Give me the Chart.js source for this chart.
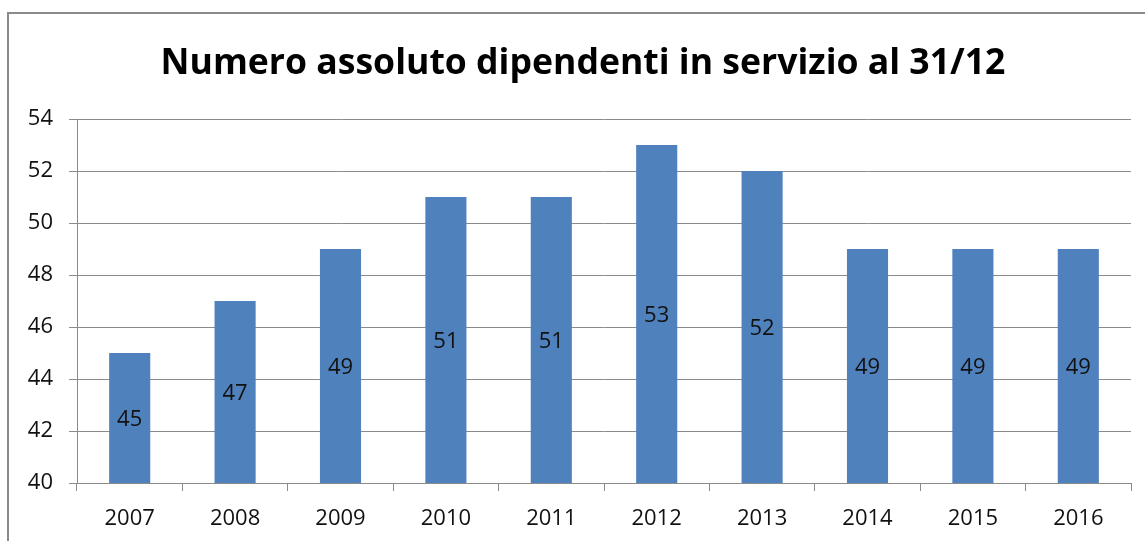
<!DOCTYPE html>
<html>
<head>
<meta charset="utf-8">
<script src="https://cdn.jsdelivr.net/npm/chart.js@4.4.0/dist/chart.umd.min.js"></script>
<style>
  html, body { margin: 0; padding: 0; background: #fff; overflow: hidden; }
  #frame { position: absolute; left: 7px; top: 12px; width: 1200px; height: 600px; border: 2px solid #8a8a8a; }
  #wrap { position: absolute; left: 0; top: 0; width: 1145px; height: 541px; }
</style>
</head>
<body>
<div id="frame"></div>
<div id="wrap"><canvas id="chart"></canvas></div>
<script>
const years = ['2007', '2008', '2009', '2010', '2011', '2012', '2013', '2014', '2015', '2016'];
const employees = [45, 47, 49, 51, 51, 53, 52, 49, 49, 49];
const yMin = 40, yMax = 54, yStep = 2;
const chartTitle = 'Numero assoluto dipendenti in servizio al 31/12';

// title drawn by hand: the original sits a bit right of the canvas centre
const titlePlugin = {
    id: 'titlePlugin',
    afterDraw(chart) {
        const ctx = chart.ctx;
        ctx.save();
        ctx.font = 'bold 35.6px "Open Sans"';
        ctx.fillStyle = '#000';
        ctx.textAlign = 'center';
        ctx.textBaseline = 'alphabetic';
        ctx.fillText(chartTitle, 583, 74);
        ctx.restore();
    }
};

// labels in the middle of each bar
const barLabels = {
    id: 'barLabels',
    afterDatasetsDraw(chart) {
        const ctx = chart.ctx;
        const yScale = chart.scales.y;
        const meta = chart.getDatasetMeta(0);
        const base = yScale.getPixelForValue(yMin);
        ctx.save();
        ctx.font = '22px "Open Sans"';
        ctx.fillStyle = '#111';
        ctx.textAlign = 'center';
        ctx.textBaseline = 'middle';
        meta.data.forEach((bar, i) => {
            const top = yScale.getPixelForValue(employees[i]);
            ctx.fillText(String(employees[i]), bar.x, (top + base) / 2 + 2);
        });
        ctx.restore();
    }
};

new Chart(document.getElementById('chart'), {
    type: 'bar',
    data: {
        labels: years,
        datasets: [{
            data: employees,
            backgroundColor: '#4f81bd',
            barPercentage: 0.39,
            categoryPercentage: 1
        }]
    },
    options: {
        responsive: true,
        maintainAspectRatio: false,
        animation: false,
        layout: { padding: { left: 0, right: 14, top: 119, bottom: 0 } },
        plugins: {
            legend: { display: false },
            tooltip: { enabled: false },
            title: { display: false }
        },
        scales: {
            x: {
                grid: { drawOnChartArea: false, drawTicks: true, tickLength: 8, offset: true, color: '#8a8a8a' },
                border: { display: true, color: '#8a8a8a' },
                ticks: { color: '#111', font: { family: '"Open Sans"', size: 22 }, padding: 15, maxRotation: 0 },
                afterFit: s => { s.height = 58; }
            },
            y: {
                min: yMin,
                max: yMax,
                grid: { color: '#8a8a8a', tickLength: 8 },
                border: { display: true, color: '#8a8a8a' },
                ticks: { stepSize: yStep, color: '#111', font: { family: '"Open Sans"', size: 22 }, padding: 16 },
                afterFit: s => { s.width = 77; }
            }
        }
    },
    plugins: [barLabels, titlePlugin]
});
</script>
</body>
</html>
